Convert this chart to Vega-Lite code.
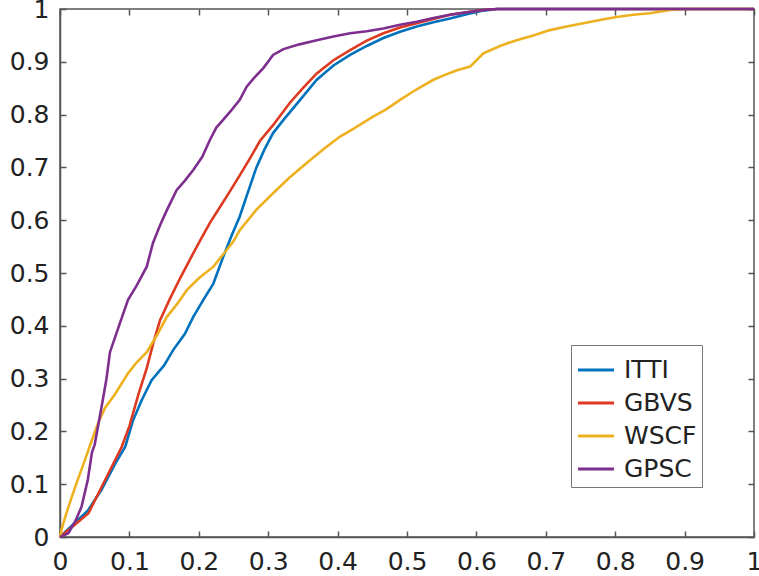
{
"$schema": "https://vega.github.io/schema/vega-lite/v6.json",
"width": 694, "height": 528,
"autosize": "none",
"padding": {"left": 60, "top": 9, "right": 5, "bottom": 39},
"background": "white",
"config": {
  "view": {"stroke": "#555", "strokeWidth": 1.5},
  "axis": {"grid": false, "title": null, "labelFont": "DejaVu Sans", "labelFontSize": 25, "labelColor": "#222", "tickColor": "#555", "tickWidth": 1.5, "domainColor": "#555", "domainWidth": 1.5, "labelFlush": false, "labelOverlap": false}
},
"data": {"values": [
{"m":"ITTI","x":0,"y":0},{"m":"ITTI","x":0.02,"y":0.025},{"m":"ITTI","x":0.04,"y":0.05},{"m":"ITTI","x":0.06,"y":0.09},{"m":"ITTI","x":0.08,"y":0.14},{"m":"ITTI","x":0.094,"y":0.171},{"m":"ITTI","x":0.105,"y":0.22},{"m":"ITTI","x":0.118,"y":0.26},{"m":"ITTI","x":0.132,"y":0.297},{"m":"ITTI","x":0.15,"y":0.325},{"m":"ITTI","x":0.163,"y":0.354},{"m":"ITTI","x":0.18,"y":0.385},{"m":"ITTI","x":0.192,"y":0.417},{"m":"ITTI","x":0.207,"y":0.45},{"m":"ITTI","x":0.221,"y":0.48},{"m":"ITTI","x":0.235,"y":0.53},{"m":"ITTI","x":0.247,"y":0.57},{"m":"ITTI","x":0.259,"y":0.607},{"m":"ITTI","x":0.27,"y":0.65},{"m":"ITTI","x":0.283,"y":0.7},{"m":"ITTI","x":0.295,"y":0.735},{"m":"ITTI","x":0.307,"y":0.765},{"m":"ITTI","x":0.322,"y":0.79},{"m":"ITTI","x":0.346,"y":0.828},{"m":"ITTI","x":0.37,"y":0.866},{"m":"ITTI","x":0.394,"y":0.893},{"m":"ITTI","x":0.418,"y":0.913},{"m":"ITTI","x":0.442,"y":0.93},{"m":"ITTI","x":0.466,"y":0.945},{"m":"ITTI","x":0.49,"y":0.957},{"m":"ITTI","x":0.514,"y":0.967},{"m":"ITTI","x":0.538,"y":0.975},{"m":"ITTI","x":0.562,"y":0.982},{"m":"ITTI","x":0.586,"y":0.99},{"m":"ITTI","x":0.61,"y":0.997},{"m":"ITTI","x":0.63,"y":1},{"m":"ITTI","x":1,"y":1},
{"m":"GBVS","x":0,"y":0},{"m":"GBVS","x":0.02,"y":0.022},{"m":"GBVS","x":0.041,"y":0.045},{"m":"GBVS","x":0.065,"y":0.108},{"m":"GBVS","x":0.089,"y":0.171},{"m":"GBVS","x":0.1,"y":0.21},{"m":"GBVS","x":0.113,"y":0.27},{"m":"GBVS","x":0.125,"y":0.32},{"m":"GBVS","x":0.135,"y":0.37},{"m":"GBVS","x":0.144,"y":0.41},{"m":"GBVS","x":0.158,"y":0.45},{"m":"GBVS","x":0.173,"y":0.49},{"m":"GBVS","x":0.187,"y":0.525},{"m":"GBVS","x":0.202,"y":0.562},{"m":"GBVS","x":0.216,"y":0.595},{"m":"GBVS","x":0.231,"y":0.626},{"m":"GBVS","x":0.245,"y":0.655},{"m":"GBVS","x":0.259,"y":0.685},{"m":"GBVS","x":0.275,"y":0.72},{"m":"GBVS","x":0.288,"y":0.75},{"m":"GBVS","x":0.307,"y":0.78},{"m":"GBVS","x":0.331,"y":0.822},{"m":"GBVS","x":0.35,"y":0.85},{"m":"GBVS","x":0.37,"y":0.878},{"m":"GBVS","x":0.394,"y":0.903},{"m":"GBVS","x":0.418,"y":0.922},{"m":"GBVS","x":0.442,"y":0.94},{"m":"GBVS","x":0.466,"y":0.954},{"m":"GBVS","x":0.49,"y":0.965},{"m":"GBVS","x":0.514,"y":0.973},{"m":"GBVS","x":0.538,"y":0.981},{"m":"GBVS","x":0.562,"y":0.989},{"m":"GBVS","x":0.586,"y":0.994},{"m":"GBVS","x":0.61,"y":0.998},{"m":"GBVS","x":0.63,"y":1},{"m":"GBVS","x":1,"y":1},
{"m":"WSCF","x":0,"y":0},{"m":"WSCF","x":0.002,"y":0.013},{"m":"WSCF","x":0.008,"y":0.04},{"m":"WSCF","x":0.017,"y":0.076},{"m":"WSCF","x":0.026,"y":0.11},{"m":"WSCF","x":0.036,"y":0.146},{"m":"WSCF","x":0.045,"y":0.18},{"m":"WSCF","x":0.055,"y":0.216},{"m":"WSCF","x":0.065,"y":0.245},{"m":"WSCF","x":0.079,"y":0.27},{"m":"WSCF","x":0.098,"y":0.31},{"m":"WSCF","x":0.11,"y":0.33},{"m":"WSCF","x":0.125,"y":0.35},{"m":"WSCF","x":0.14,"y":0.383},{"m":"WSCF","x":0.154,"y":0.417},{"m":"WSCF","x":0.168,"y":0.44},{"m":"WSCF","x":0.183,"y":0.468},{"m":"WSCF","x":0.2,"y":0.49},{"m":"WSCF","x":0.221,"y":0.512},{"m":"WSCF","x":0.235,"y":0.535},{"m":"WSCF","x":0.25,"y":0.56},{"m":"WSCF","x":0.259,"y":0.581},{"m":"WSCF","x":0.283,"y":0.62},{"m":"WSCF","x":0.307,"y":0.651},{"m":"WSCF","x":0.33,"y":0.68},{"m":"WSCF","x":0.355,"y":0.708},{"m":"WSCF","x":0.38,"y":0.735},{"m":"WSCF","x":0.403,"y":0.758},{"m":"WSCF","x":0.425,"y":0.775},{"m":"WSCF","x":0.451,"y":0.796},{"m":"WSCF","x":0.47,"y":0.81},{"m":"WSCF","x":0.49,"y":0.828},{"m":"WSCF","x":0.514,"y":0.848},{"m":"WSCF","x":0.538,"y":0.866},{"m":"WSCF","x":0.56,"y":0.878},{"m":"WSCF","x":0.572,"y":0.884},{"m":"WSCF","x":0.591,"y":0.891},{"m":"WSCF","x":0.61,"y":0.916},{"m":"WSCF","x":0.634,"y":0.93},{"m":"WSCF","x":0.658,"y":0.941},{"m":"WSCF","x":0.682,"y":0.95},{"m":"WSCF","x":0.706,"y":0.96},{"m":"WSCF","x":0.73,"y":0.967},{"m":"WSCF","x":0.754,"y":0.973},{"m":"WSCF","x":0.778,"y":0.979},{"m":"WSCF","x":0.802,"y":0.985},{"m":"WSCF","x":0.826,"y":0.989},{"m":"WSCF","x":0.85,"y":0.992},{"m":"WSCF","x":0.879,"y":0.998},{"m":"WSCF","x":0.9,"y":1},{"m":"WSCF","x":1,"y":1},
{"m":"GPSC","x":0,"y":0},{"m":"GPSC","x":0.012,"y":0.007},{"m":"GPSC","x":0.022,"y":0.03},{"m":"GPSC","x":0.031,"y":0.057},{"m":"GPSC","x":0.04,"y":0.108},{"m":"GPSC","x":0.046,"y":0.16},{"m":"GPSC","x":0.05,"y":0.175},{"m":"GPSC","x":0.06,"y":0.247},{"m":"GPSC","x":0.067,"y":0.3},{"m":"GPSC","x":0.072,"y":0.35},{"m":"GPSC","x":0.085,"y":0.4},{"m":"GPSC","x":0.098,"y":0.449},{"m":"GPSC","x":0.11,"y":0.475},{"m":"GPSC","x":0.125,"y":0.512},{"m":"GPSC","x":0.134,"y":0.557},{"m":"GPSC","x":0.144,"y":0.59},{"m":"GPSC","x":0.154,"y":0.619},{"m":"GPSC","x":0.168,"y":0.657},{"m":"GPSC","x":0.18,"y":0.675},{"m":"GPSC","x":0.192,"y":0.695},{"m":"GPSC","x":0.205,"y":0.72},{"m":"GPSC","x":0.216,"y":0.752},{"m":"GPSC","x":0.225,"y":0.775},{"m":"GPSC","x":0.235,"y":0.79},{"m":"GPSC","x":0.248,"y":0.81},{"m":"GPSC","x":0.259,"y":0.828},{"m":"GPSC","x":0.269,"y":0.853},{"m":"GPSC","x":0.28,"y":0.87},{"m":"GPSC","x":0.293,"y":0.888},{"m":"GPSC","x":0.307,"y":0.913},{"m":"GPSC","x":0.322,"y":0.924},{"m":"GPSC","x":0.345,"y":0.933},{"m":"GPSC","x":0.37,"y":0.941},{"m":"GPSC","x":0.394,"y":0.948},{"m":"GPSC","x":0.418,"y":0.954},{"m":"GPSC","x":0.442,"y":0.958},{"m":"GPSC","x":0.466,"y":0.963},{"m":"GPSC","x":0.49,"y":0.97},{"m":"GPSC","x":0.514,"y":0.976},{"m":"GPSC","x":0.538,"y":0.983},{"m":"GPSC","x":0.562,"y":0.989},{"m":"GPSC","x":0.586,"y":0.994},{"m":"GPSC","x":0.61,"y":0.998},{"m":"GPSC","x":0.63,"y":1},{"m":"GPSC","x":1,"y":1}
]},
"layer": [
  {
    "mark": {"type": "line", "strokeWidth": 2.6},
    "encoding": {
      "x": {"field": "x", "type": "quantitative", "scale": {"domain": [0, 1], "nice": false, "zero": false},
            "axis": {"orient": "bottom", "values": [0,0.1,0.2,0.3,0.4,0.5,0.6,0.7,0.8,0.9,1], "format": "~g", "tickSize": -6, "labelPadding": 18}},
      "y": {"field": "y", "type": "quantitative", "scale": {"domain": [0, 1], "nice": false, "zero": false},
            "axis": {"orient": "left", "values": [0,0.1,0.2,0.3,0.4,0.5,0.6,0.7,0.8,0.9,1], "format": "~g", "tickSize": -6, "labelPadding": 17}},
      "color": {"field": "m", "type": "nominal",
        "scale": {"domain": ["ITTI", "GBVS", "WSCF", "GPSC"], "range": ["#0072BD", "#DD3A22", "#EDB120", "#7E2F8E"]},
        "legend": {"title": null, "orient": "none", "legendX": 511, "legendY": 336, "symbolType": "stroke", "symbolSize": 1300, "symbolStrokeWidth": 3, "labelFont": "DejaVu Sans", "labelFontSize": 25, "labelColor": "#222", "labelOffset": 8, "padding": 5, "rowPadding": 0, "strokeColor": "#777", "fillColor": "white", "labelLimit": 300}
      }
    }
  },
  {
    "mark": {"type": "point", "opacity": 0},
    "encoding": {
      "x": {"field": "x", "type": "quantitative", "scale": {"domain": [0, 1], "nice": false, "zero": false},
            "axis": {"orient": "top", "values": [0,0.1,0.2,0.3,0.4,0.5,0.6,0.7,0.8,0.9,1], "labels": false, "domain": false, "tickSize": -6}},
      "y": {"field": "y", "type": "quantitative", "scale": {"domain": [0, 1], "nice": false, "zero": false},
            "axis": {"orient": "right", "values": [0,0.1,0.2,0.3,0.4,0.5,0.6,0.7,0.8,0.9,1], "labels": false, "domain": false, "tickSize": -6}}
    }
  }
],
"resolve": {"scale": {"x": "independent", "y": "independent"}}
}
